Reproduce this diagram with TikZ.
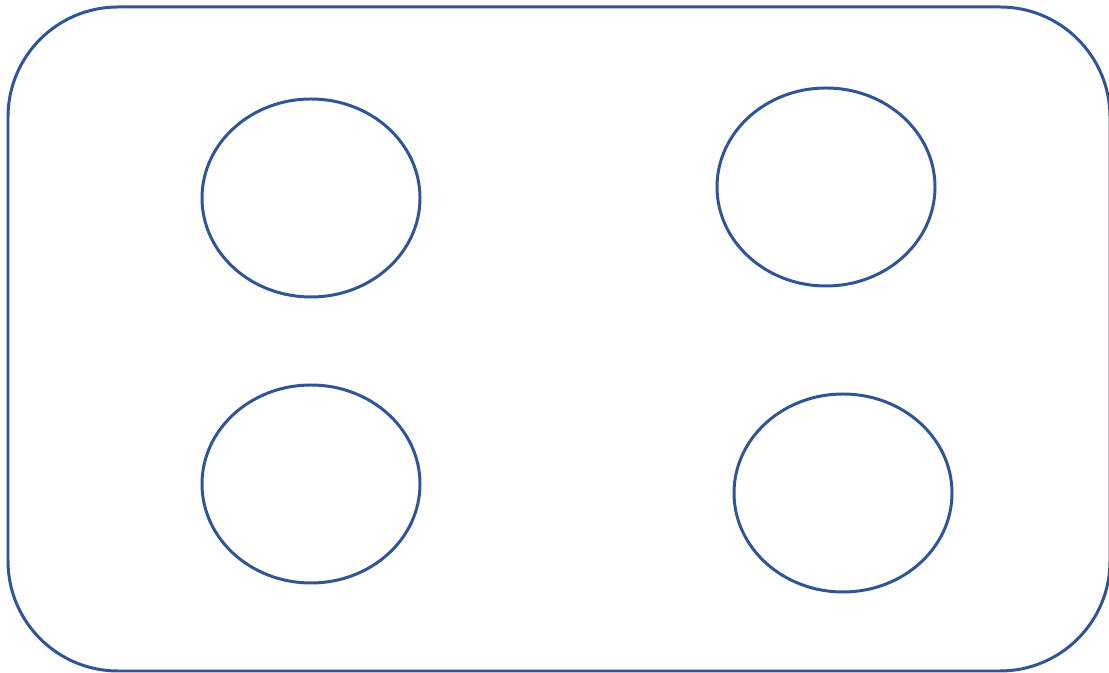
\documentclass[tikz,border=0pt]{standalone}
\usepackage{tikz}
\usetikzlibrary{shapes.geometric}
\usepackage{xcolor}
\definecolor{plateblue}{RGB}{47,85,151}

\begin{document}
\begin{tikzpicture}[line width=1.7pt,
  every node/.style={draw=plateblue,line width=1.7pt,inner sep=0pt},
  well/.style={ellipse,minimum width=4.36cm,minimum height=3.96cm}]
\useasboundingbox (0,0) rectangle (22.18,13.46);
\node[rounded corners=2.2cm,minimum width=22.04cm,minimum height=13.28cm]
  (tray) at (11.18,6.68) {};
\node[well] (wellA) at (6.22,9.5) {};
\node[well] (wellB) at (16.52,9.72) {};
\node[well] (wellC) at (6.22,3.78) {};
\node[well] (wellD) at (16.86,3.6) {};
\end{tikzpicture}
\end{document}
